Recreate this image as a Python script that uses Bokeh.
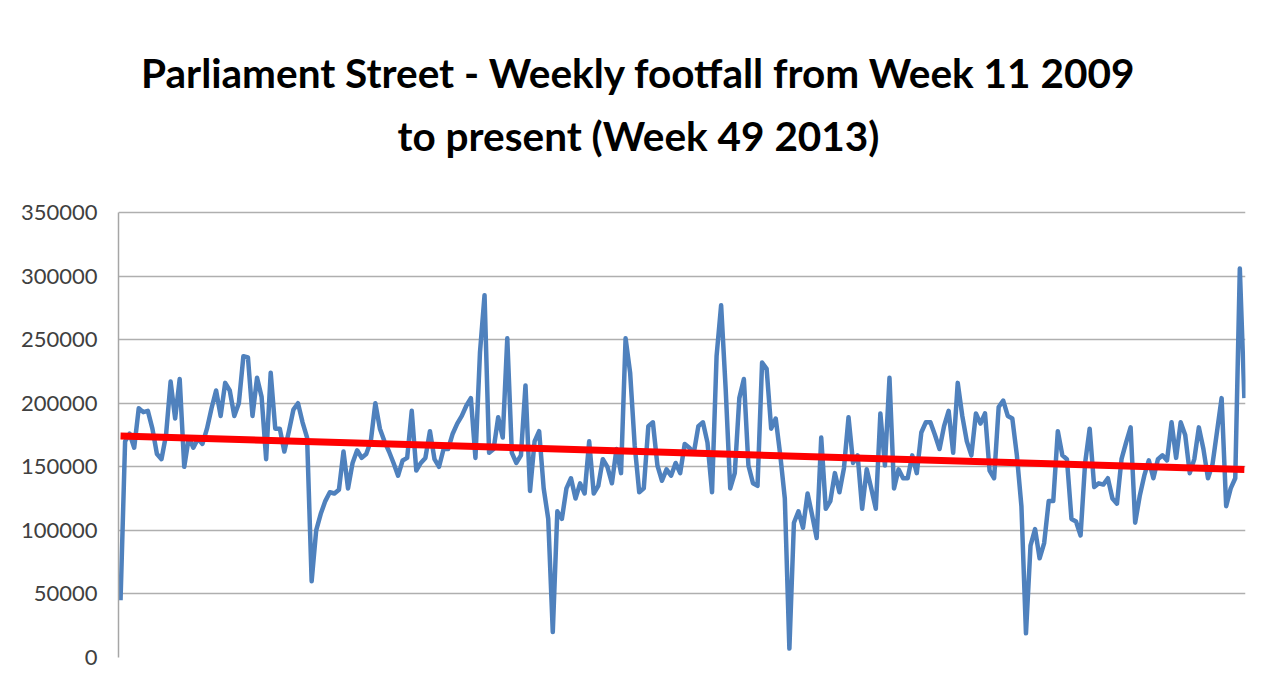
import numpy as np
from bokeh.plotting import figure
from bokeh.models import Range1d, FixedTicker, Label, NumeralTickFormatter
from bokeh.embed import file_html
from bokeh.resources import INLINE

title_line1 = "Parliament Street - Weekly footfall from Week 11 2009"
title_line2 = "to present (Week 49 2013)"

y_ticks = [0, 50000, 100000, 150000, 200000, 250000, 300000, 350000]

# Weekly footfall, Week 11 2009 .. Week 49 2013
footfall = [
    45000, 170000, 176000, 165000, 196000, 193000, 194000, 180000, 160000, 156000,
    175000, 217000, 188000, 219000, 150000, 173000, 165000, 172000, 168000, 180000,
    196000, 210000, 190000, 216000, 210000, 190000, 200000, 237000, 236000, 190000,
    220000, 205000, 156000, 224000, 180000, 180000, 162000, 178000, 195000, 200000,
    185000, 173000, 60000, 100000, 113000, 123000, 130000, 129000, 132000, 162000,
    133000, 153000, 163000, 157000, 160000, 170000, 200000, 180000, 170000, 162000,
    153000, 143000, 155000, 157000, 194000, 147000, 153000, 157000, 178000, 156000,
    150000, 164000, 164000, 176000, 184000, 190000, 198000, 204000, 157000, 240000,
    285000, 161000, 164000, 189000, 173000, 251000, 161000, 153000, 159000, 214000,
    131000, 170000, 178000, 133000, 109000, 20000, 115000, 109000, 133000, 141000,
    125000, 137000, 129000, 170000, 129000, 135000, 156000, 150000, 137000, 164000,
    145000, 251000, 224000, 167000, 130000, 133000, 182000, 185000, 151000, 139000,
    148000, 143000, 153000, 145000, 168000, 165000, 161000, 182000, 185000, 169000,
    130000, 237000, 277000, 211000, 133000, 145000, 204000, 219000, 151000, 137000,
    135000, 232000, 227000, 180000, 188000, 159000, 125000, 7000, 106000, 115000,
    102000, 129000, 112000, 94000, 173000, 117000, 123000, 145000, 130000, 149000,
    189000, 153000, 159000, 117000, 148000, 133000, 117000, 192000, 151000, 220000,
    133000, 148000, 141000, 141000, 159000, 145000, 177000, 185000, 185000, 175000,
    164000, 182000, 194000, 161000, 216000, 190000, 170000, 159000, 192000, 184000,
    192000, 147000, 141000, 197000, 202000, 190000, 188000, 159000, 119000, 19000,
    88000, 101000, 78000, 90000, 123000, 123000, 178000, 159000, 156000, 109000,
    107000, 96000, 153000, 180000, 134000, 137000, 136000, 141000, 125000, 121000,
    156000, 169000, 181000, 106000, 127000, 143000, 155000, 141000, 156000, 159000,
    155000, 185000, 157000, 185000, 175000, 145000, 156000, 181000, 164000, 141000,
    152000, 178000, 204000, 119000, 133000, 141000, 306000, 204000,
]

week_index = np.arange(len(footfall))
n = len(footfall)

# linear trend line (least squares on the weekly series)
slope, intercept = np.polyfit(week_index, np.array(footfall, dtype=float), 1)
trend_x = [0, n - 1]
trend_y = [intercept, intercept + slope * (n - 1)]

y_max = y_ticks[-1]
# frame reaches the top of the canvas so the title (drawn inside it) is not clipped;
# the value axis itself (0..350000) occupies the lower 445 px of the 657 px frame
frame_h, axis_h = 657, 445
W, H = 1272, 680
p = figure(width=W, height=H, output_backend="svg", toolbar_location=None,
           x_range=Range1d(-0.45, n - 1 + 0.25),
           y_range=Range1d(0, y_max * frame_h / axis_h),
           min_border_left=118, min_border_right=27, min_border_top=0,
           min_border_bottom=H - frame_h)
p.background_fill_color = "white"
p.border_fill_color = "white"
p.outline_line_color = None

p.xaxis.visible = False
p.xgrid.visible = False

p.yaxis.ticker = FixedTicker(ticks=y_ticks)
p.yaxis.bounds = (0, y_max)
p.yaxis.formatter = NumeralTickFormatter(format="0")
p.yaxis.major_tick_line_color = None
p.yaxis.minor_tick_line_color = None
p.yaxis.major_tick_out = 0
p.yaxis.major_label_standoff = 21
p.yaxis.axis_line_color = "#A6A6A6"
p.yaxis.axis_line_width = 1.5
p.yaxis.major_label_text_font = "Lato"
p.yaxis.major_label_text_font_size = "22px"
p.yaxis.major_label_text_color = "#404040"

p.ygrid.ticker = FixedTicker(ticks=y_ticks)
p.ygrid.grid_line_color = "#AFAFAF"
p.ygrid.grid_line_width = 1.5

p.line(week_index, footfall, line_color="#4F81BD", line_width=4.5,
       line_join="round")
p.line(trend_x, trend_y, line_color="#FF0000", line_width=7)

# Label screen units are measured from the frame's bottom-left corner
for txt, y_from_bottom in [(title_line1, 585), (title_line2, 522)]:
    p.add_layout(Label(x=638 - 118, y=y_from_bottom,
                       x_units="screen", y_units="screen", text=txt,
                       text_align="center", text_baseline="alphabetic",
                       text_font="Lato", text_font_style="bold",
                       text_font_size="40.5px", text_color="#000000"))

open("out.html", "w").write(file_html(p, INLINE))
